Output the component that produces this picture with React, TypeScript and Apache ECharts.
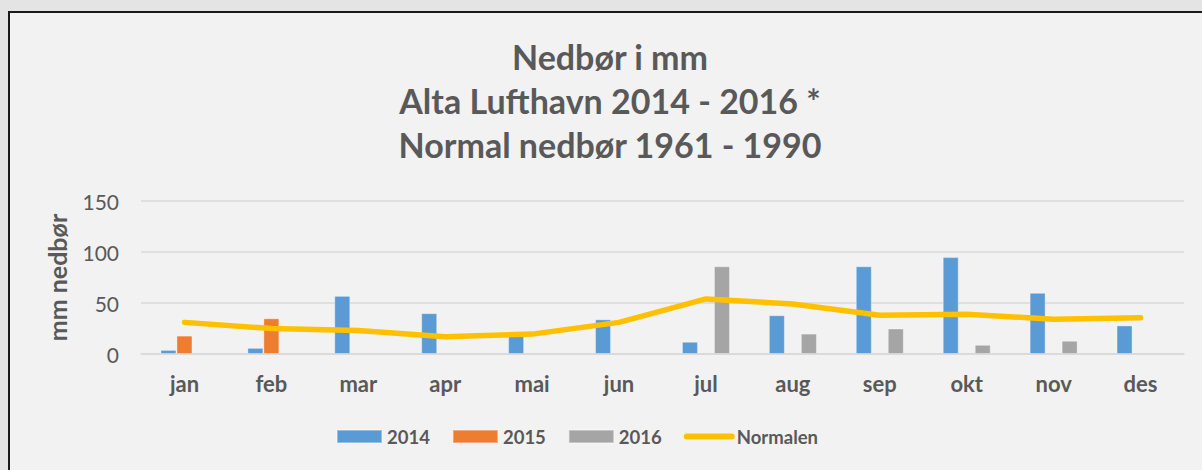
import React, { useEffect, useRef } from "react";
import * as echarts from "echarts";

const months = ["jan", "feb", "mar", "apr", "mai", "jun", "jul", "aug", "sep", "okt", "nov", "des"];
const values2014 = [4, 6, 57, 40, 18, 34, 12, 38, 86, 95, 60, 28];
const values2015 = [18, 35, null, null, null, null, null, null, null, null, null, null];
const values2016 = [null, null, null, null, null, null, 86, 20, 25, 9, 13, null];
const normalen = [31, 25, 23, 17, 19.5, 31, 54, 49, 38, 39, 34, 35.5];
const yTicks = { min: 0, max: 150, interval: 50 };
const titleLines = ["Nedbør i mm", "Alta Lufthavn 2014 - 2016 *", "Normal nedbør 1961 - 1990"];

const FONT = "Lato, 'Open Sans', sans-serif";
const TEXT = "#595959";

export default function App() {
  const ref = useRef<HTMLDivElement>(null);
  useEffect(() => {
    if (!ref.current) return;
    const chart = echarts.init(ref.current, undefined, { renderer: "svg" });
    const barBorder = { borderColor: "rgba(255,255,255,0.35)", borderWidth: 1 };
    chart.setOption({
      animation: false,
      backgroundColor: "#f2f2f2",
      textStyle: { fontFamily: FONT, color: TEXT },
      graphic: titleLines.map((t, i) => ({
        type: "text",
        x: 600,
        y: 43 + i * 44,
        style: {
          text: t,
          fontFamily: FONT,
          fontSize: 34,
          fontWeight: "bold",
          fill: TEXT,
          textAlign: "center",
          textVerticalAlign: "middle",
        },
      })),
      legend: {
        left: 326,
        top: 414,
        padding: 0,
        itemWidth: 45,
        itemHeight: 13,
        itemGap: 22,
        textStyle: { fontFamily: FONT, fontSize: 18.5, fontWeight: "bold", color: TEXT },
        data: [
          { name: "2014", icon: "rect" },
          { name: "2015", icon: "rect" },
          { name: "2016", icon: "rect" },
          { name: "Normalen", itemStyle: { opacity: 0 }, lineStyle: { width: 6, cap: "round" } },
        ],
      },
      grid: { left: 131, right: 26, top: 188, height: 153 },
      xAxis: {
        type: "category",
        data: months,
        axisLine: { show: true, lineStyle: { color: "#d9d9d9", width: 1.5 } },
        axisTick: { show: false },
        axisLabel: { fontFamily: FONT, fontSize: 22, fontWeight: "bold", color: TEXT, margin: 18 },
      },
      yAxis: {
        type: "value",
        min: yTicks.min,
        max: yTicks.max,
        interval: yTicks.interval,
        name: "mm nedbør",
        nameLocation: "middle",
        nameGap: 72,
        nameRotate: 90,
        nameTextStyle: { fontFamily: FONT, fontSize: 25, fontWeight: "bold", color: TEXT },
        axisLine: { show: false },
        axisTick: { show: false },
        axisLabel: { fontFamily: FONT, fontSize: 21, color: TEXT, margin: 22 },
        splitLine: { lineStyle: { color: "#d9d9d9", width: 1.5 } },
      },
      series: [
        { name: "2014", type: "bar", data: values2014, barWidth: 16, barGap: "0%", itemStyle: { color: "#5B9BD5", ...barBorder } },
        { name: "2015", type: "bar", data: values2015, barWidth: 16, barGap: "0%", itemStyle: { color: "#ED7D31", ...barBorder } },
        { name: "2016", type: "bar", data: values2016, barWidth: 16, barGap: "0%", itemStyle: { color: "#A5A5A5", ...barBorder } },
        {
          name: "Normalen",
          type: "line",
          data: normalen,
          symbol: "none",
          z: 5,
          itemStyle: { color: "#FFC000" },
          lineStyle: { color: "#FFC000", width: 5.5, cap: "round", join: "round" },
        },
      ],
    });
    return () => chart.dispose();
  }, []);
  return (
    <div style={{ position: "fixed", left: 0, top: 0, width: 1202, height: 470, background: "#e4e4e4", overflow: "hidden" }}>
      <div style={{ position: "absolute", left: 8, top: 11, border: "2px solid #1a1a1a", background: "#f2f2f2" }}>
        <div ref={ref} style={{ width: 1200, height: 470 }} />
      </div>
    </div>
  );
}
